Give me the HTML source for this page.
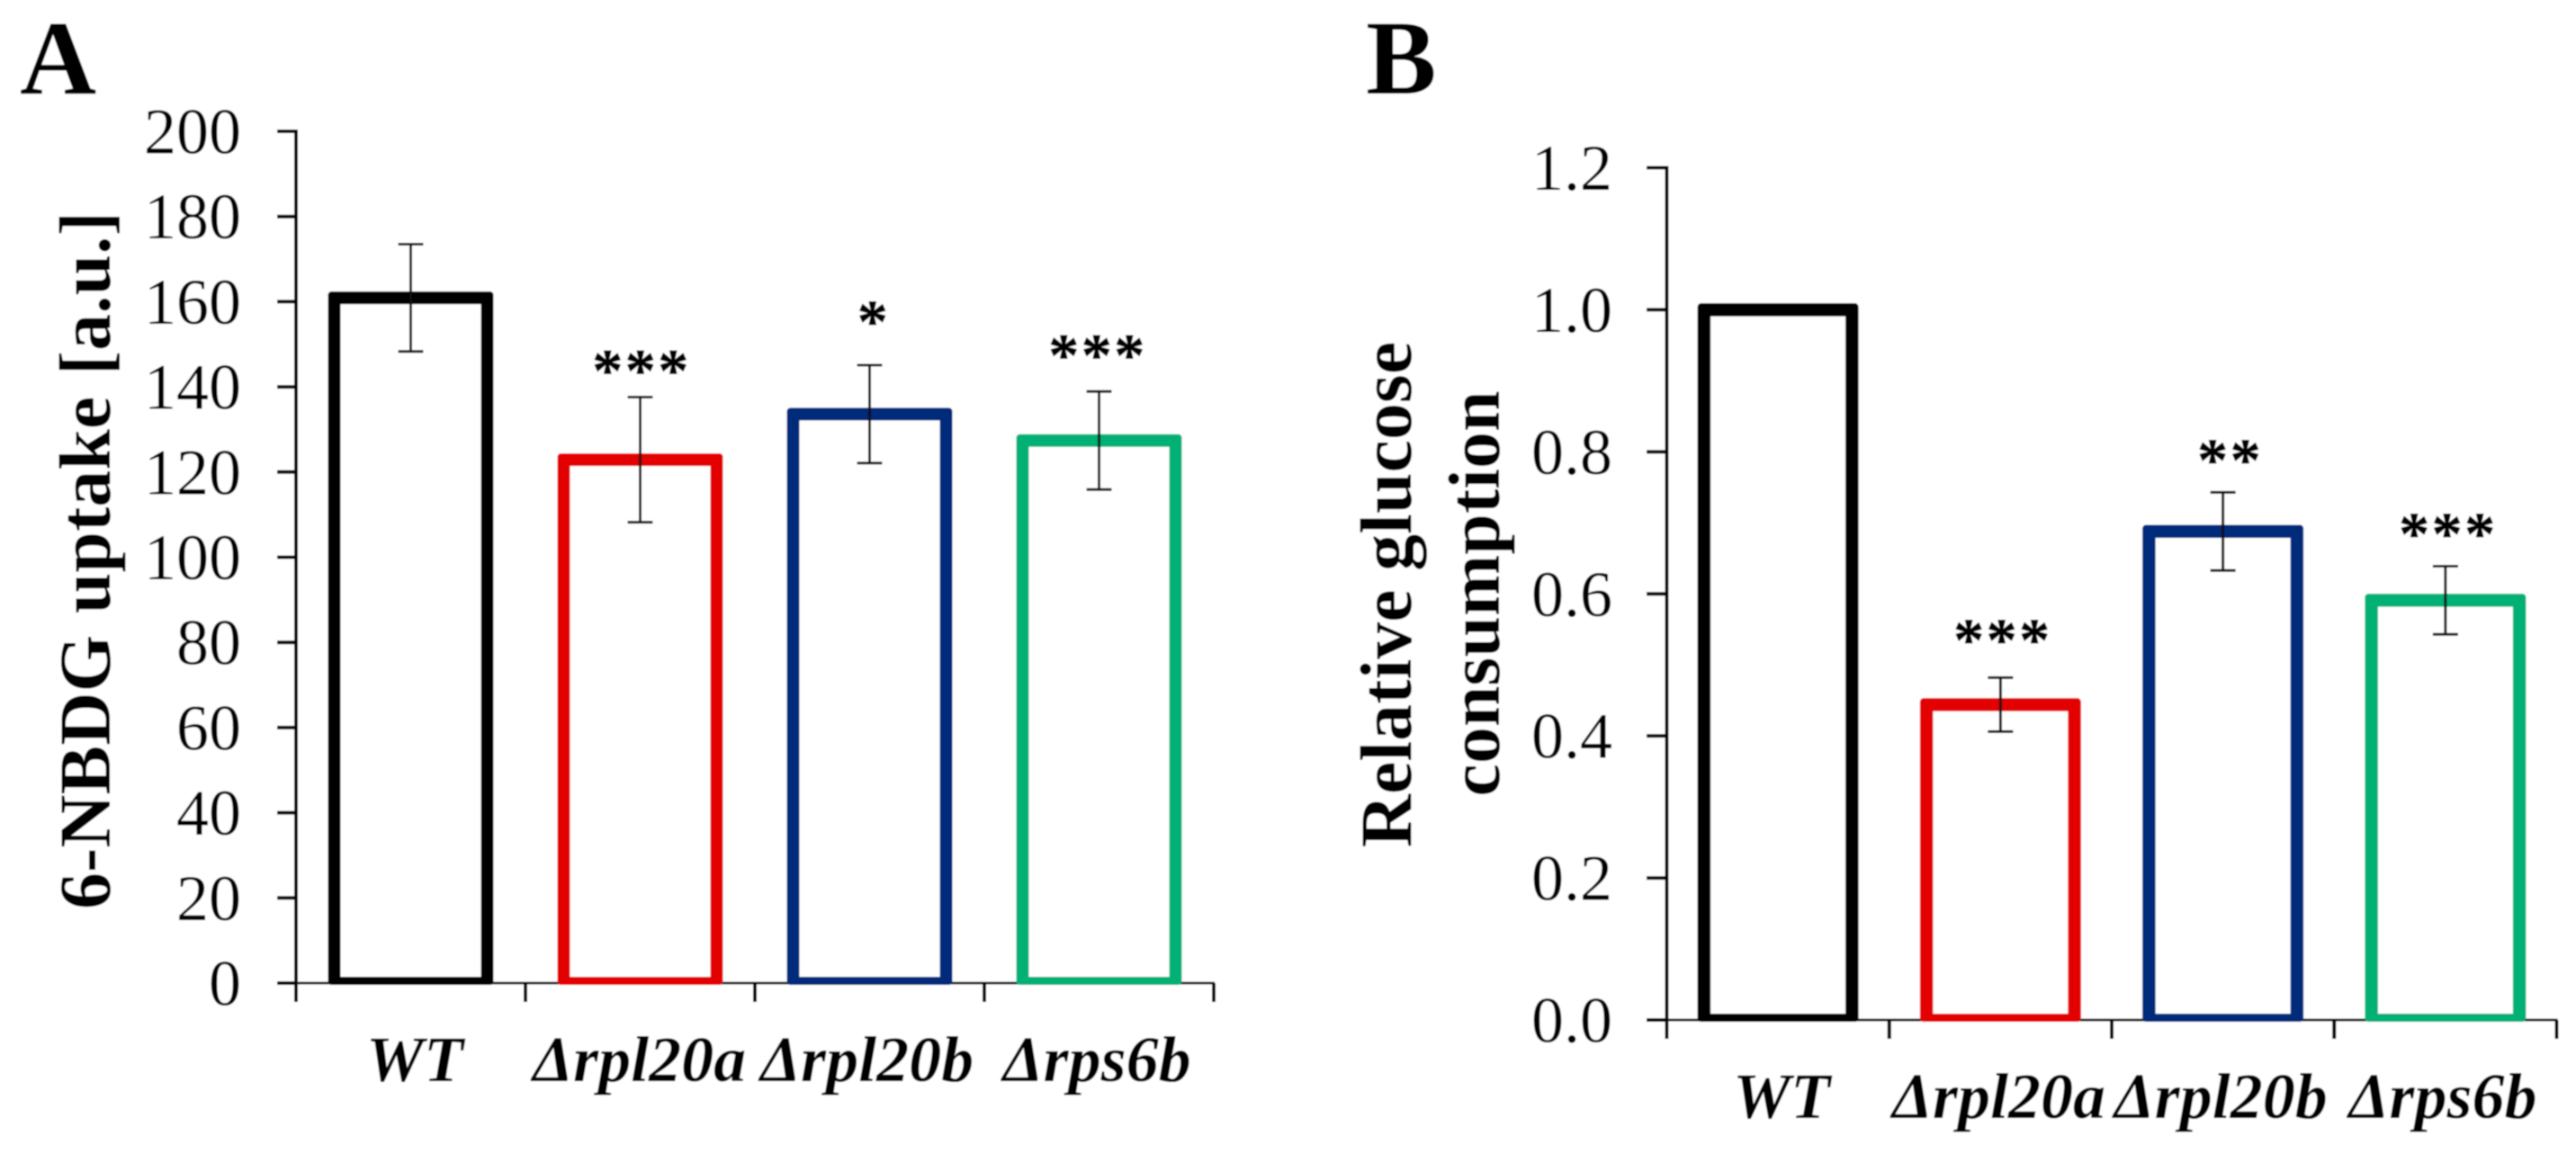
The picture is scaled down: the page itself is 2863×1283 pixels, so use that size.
<!DOCTYPE html>
<html lang="en">
<head>
<meta charset="utf-8">
<title>6-NBDG uptake and relative glucose consumption</title>
<style>
html,body{margin:0;padding:0;background:#fff;}
#figure{display:block;width:2863px;height:1283px;font-family:"Liberation Serif","Times New Roman",serif;}
text{font-family:"Liberation Serif","Times New Roman",serif;fill:#000;}
</style>
</head>
<body>
<svg id="figure" xmlns="http://www.w3.org/2000/svg" width="2863" height="1283" viewBox="0 0 2863 1283">
  <defs>
    <filter id="soften" x="0" y="0" width="100%" height="100%" filterUnits="objectBoundingBox">
      <feGaussianBlur stdDeviation="0.7"/>
    </filter>
  </defs>
  <rect x="0" y="0" width="2863" height="1283" fill="#ffffff"/>
  <g id="content" filter="url(#soften)">
    <rect x="0" y="0" width="2863" height="1283" fill="#ffffff"/>
    <text x="22" y="104" font-size="118" font-weight="bold">A</text>
    <text x="1518" y="104" font-size="118" font-weight="bold">B</text>
    <text transform="translate(122,623) rotate(-90)" text-anchor="middle" font-size="82" font-weight="bold" word-spacing="3">6-NBDG uptake [a.u.]</text>
    <text transform="translate(1568,661) rotate(-90)" text-anchor="middle" font-size="82" font-weight="bold">Relative glucose</text>
    <text transform="translate(1666,660) rotate(-90)" text-anchor="middle" font-size="82" font-weight="bold">consumption</text>
    <g id="panel-a"></g>
    <g id="panel-b"></g>
  </g>
</svg>
<script>
// Shared categories and colours
const categories = ["WT", "\u0394rpl20a", "\u0394rpl20b", "\u0394rps6b"];
const barColors = ["#000000", "#e20000", "#002a7a", "#00b074"];

// Panel A data
const ticksA = [0, 20, 40, 60, 80, 100, 120, 140, 160, 180, 200];
const tickLabelsA = ["0", "20", "40", "60", "80", "100", "120", "140", "160", "180", "200"];
const valuesA = [160.9, 122.9, 133.6, 127.4];
const errorsA = [12.6, 14.7, 11.5, 11.5];
const starsA = ["", "***", "*", "***"];
const starLevelsA = [0, 138.4, 150, 142];

// Panel B data
const ticksB = [0, 0.2, 0.4, 0.6, 0.8, 1.0, 1.2];
const tickLabelsB = ["0.0", "0.2", "0.4", "0.6", "0.8", "1.0", "1.2"];
const valuesB = [1.0, 0.444, 0.688, 0.591];
const errorsB = [0, 0.038, 0.055, 0.048];
const starsB = ["", "***", "**", "***"];
const starLevelsB = [0, 0.5025, 0.756, 0.652];

const SVG_NS = "http://www.w3.org/2000/svg";

function make(tag, parent) {
  const el = document.createElementNS(SVG_NS, tag);
  parent.appendChild(el);
  return el;
}

function line(parent, x1, y1, x2, y2, width, color) {
  const el = make("line", parent);
  el.setAttribute("x1", x1);
  el.setAttribute("y1", y1);
  el.setAttribute("x2", x2);
  el.setAttribute("y2", y2);
  el.setAttribute("stroke", color);
  el.setAttribute("stroke-width", width);
  return el;
}

function box(parent, x, y, w, h, rx, fill) {
  const el = make("rect", parent);
  el.setAttribute("x", x);
  el.setAttribute("y", y);
  el.setAttribute("width", w);
  el.setAttribute("height", h);
  el.setAttribute("rx", rx);
  el.setAttribute("fill", fill);
  return el;
}

function label(parent, x, y, size, anchor, str) {
  const el = make("text", parent);
  el.setAttribute("x", x);
  el.setAttribute("y", y);
  el.setAttribute("font-size", size);
  el.setAttribute("text-anchor", anchor);
  el.textContent = str;
  return el;
}

function drawPanel(p) {
  const root = document.getElementById(p.id);
  const yOf = function (v) { return p.y0 - (v / p.yMax) * (p.y0 - p.yTop); };
  const band = (p.xRight - p.xAxis) / p.categories.length;
  const xOf = function (i) { return p.xAxis + band * (i + 0.5); };

  // Y axis line
  const yAxis = line(root, p.xAxis, p.yTop - 2, p.xAxis, p.xTickEnd, 4, "#000");
  
  

  // X axis baseline
  const xAxis = line(root, p.tickLeft, p.y0, p.xRight + 1, p.y0, 3, "#111");
  
  

  // Y ticks and labels
  p.ticks.forEach(function (t, i) {
    const y = yOf(t);
    const tick = line(root, p.tickLeft, y, p.xAxis, y, 4, "#000");
    
    
    const txt = label(root, p.tickLabelX, y + 24.5, 72, "end", p.tickLabels[i]);
    
    
  });

  // X ticks
  for (let i = 1; i <= p.categories.length; i++) {
    const x = p.xAxis + band * i;
    const xt = line(root, x, p.y0, x, p.xTickEnd, 4, "#000");
    
    
  }

  // Bars, error bars, stars, category labels
  p.categories.forEach(function (c, i) {
    const cx = xOf(i);
    const top = yOf(p.values[i]) - p.stroke / 2;
    const bottom = p.y0 + 2;
    const outer = box(root, cx - p.barWidth / 2, top, p.barWidth, bottom - top, 4, barColors[i]);
    
    
    const inner = box(root, cx - p.barWidth / 2 + p.stroke, top + p.stroke, p.barWidth - 2 * p.stroke, bottom - top - p.stroke - 9, 0, "#ffffff");
    
    

    if (p.errors[i] > 0) {
      const yHi = yOf(p.values[i] + p.errors[i]);
      const yLo = yOf(p.values[i] - p.errors[i]);
      const stem = line(root, cx, yHi, cx, yLo, 3, "#111");
      
      
      const capHi = line(root, cx - 14, yHi, cx + 14, yHi, 3, "#111");
      
      
      const capLo = line(root, cx - 14, yLo, cx + 14, yLo, 3, "#111");
      
      
    }

    if (p.stars[i]) {
      const star = label(root, cx + p.starNudge[i], yOf(p.starLevels[i]) - 3, 68, "middle", p.stars[i]);
      star.setAttribute("font-weight", "bold");
      star.setAttribute("letter-spacing", "2.5");
      star.setAttribute("stroke", "#000");
      star.setAttribute("stroke-width", "0.8");
      
      
    }

    const cat = label(root, cx + p.labelNudge[i], p.labelY, 72, "middle", c);
    cat.setAttribute("font-weight", "bold");
    cat.setAttribute("font-style", "italic");
    
    
  });
}

drawPanel({
  id: "panel-a", categories: categories, ticks: ticksA, tickLabels: tickLabelsA,
  values: valuesA, errors: errorsA, stars: starsA, starLevels: starLevelsA,
  yMax: 200, y0: 1093, yTop: 146, xAxis: 329, xRight: 1349, tickLeft: 308, xTickEnd: 1114,
  tickLabelX: 268, barWidth: 184, stroke: 14, labelY: 1202,
  labelNudge: [4.5, -1, -3, -2.5], starNudge: [0, 1.5, 4.5, -1.5]
});

drawPanel({
  id: "panel-b", categories: categories, ticks: ticksB, tickLabels: tickLabelsB,
  values: valuesB, errors: errorsB, stars: starsB, starLevels: starLevelsB,
  yMax: 1.2, y0: 1134, yTop: 186.5, xAxis: 1852.5, xRight: 2841.5, tickLeft: 1830, xTickEnd: 1155,
  tickLabelX: 1792, barWidth: 179, stroke: 14.5, labelY: 1243,
  labelNudge: [4, -2, -2.5, -3], starNudge: [0, 2.5, 8, 3]
});
</script>
</body>
</html>
